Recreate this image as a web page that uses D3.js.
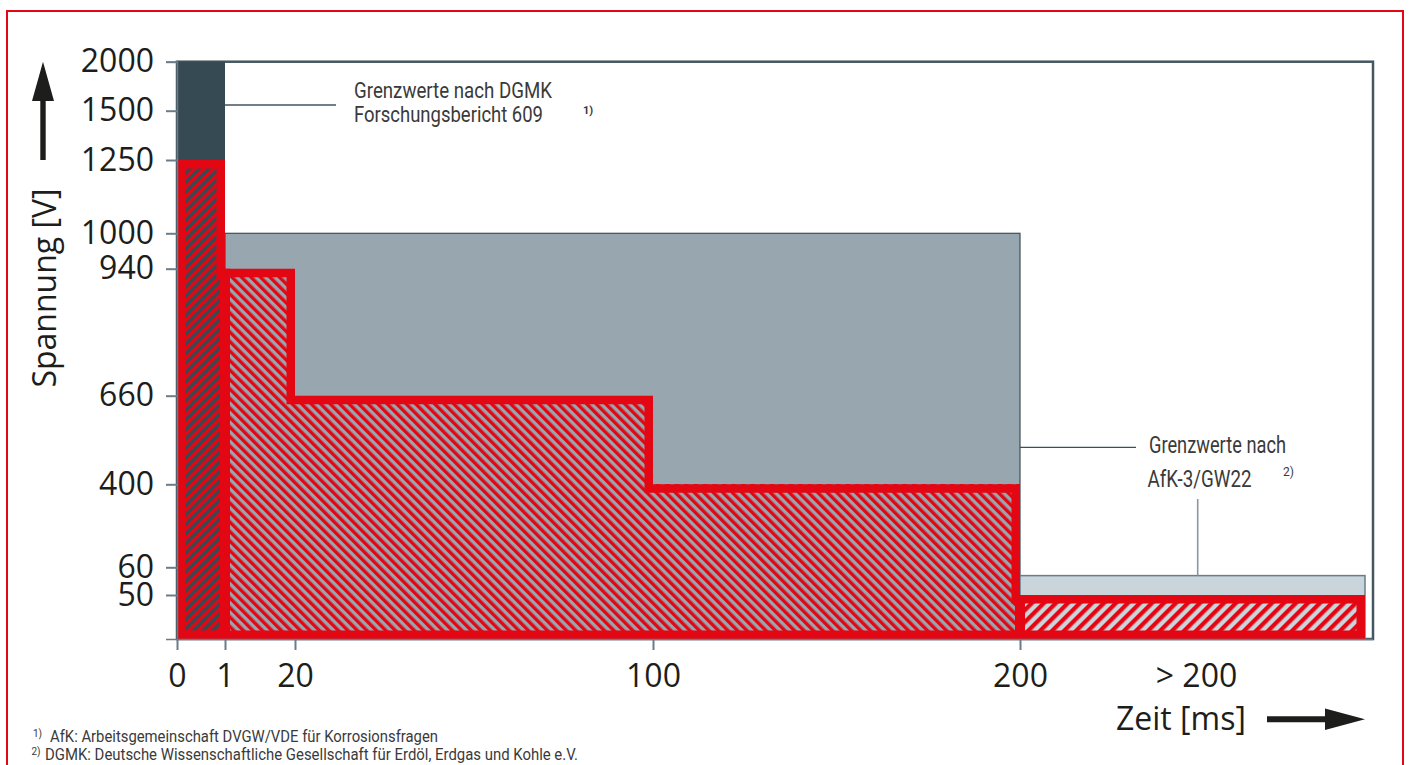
<!DOCTYPE html>
<html>
<head>
<meta charset="utf-8">
<script src="https://cdn.jsdelivr.net/npm/d3@7"></script>
<style>
  html, body { margin: 0; padding: 0; background: #fff; }
  svg { display: block; }
  .tick text { font-family: "Open Sans", sans-serif; font-size: 32px; fill: #1d1d1b; }
  .big { font-family: "Open Sans", sans-serif; font-size: 32px; fill: #1d1d1b; }
  .narrow { font-family: Roboto, "DejaVu Sans Condensed", sans-serif; fill: #3a3a3a; }
</style>
</head>
<body>
<div class="vis-steps"></div>
<script>
// time axis [ms] and voltage axis [V]
const xTicks = [0, 1, 20, 100, 200];
const xOpenLabel = '> 200';
const yTicks = [2000, 1500, 1250, 1000, 940, 660, 400, 60, 50];

// red hatched field: allowed voltage per time step
const stepStart = [0, 1, 20, 100, 200];
const stepEnd = [1, 20, 100, 200, 300];
const stepVolt = [1250, 940, 660, 400, 50];

// limit fields behind it (DGMK, AfK 1..200 ms, AfK > 200 ms)
const limitStart = [0, 1, 200];
const limitEnd = [1, 200, 300];
const limitVolt = [2000, 1000, 57];

const note1 = ['Grenzwerte nach DGMK', 'Forschungsbericht 609'];
const note2 = ['Grenzwerte nach', 'AfK-3/GW22'];
const footnotes = [
  ['1)', 'AfK: Arbeitsgemeinschaft DVGW/VDE für Korrosionsfragen'],
  ['2)', 'DGMK: Deutsche Wissenschaftliche Gesellschaft für Erdöl, Erdgas und Kohle e.V.']
];

const RED = '#e30613';
const fieldFill = ['#364a54', '#97a6af', '#c9d4db'];
const hatchPeriod = [9.5, 9.5, 12];
const hatchAngle = [45, -45, 45];

const draw = () => {
  const W = 1410;
  const H = 765;
  const svg = d3.select('.vis-steps')
    .append('svg')
    .attr('width', W)
    .attr('height', H);

  // piecewise scales, the axes are not to scale in the original
  const x = d3.scaleLinear()
    .domain([...xTicks, d3.max(stepEnd)])
    .range([177, 225, 295, 653, 1020, 1365]);
  const y = d3.scaleLinear()
    .domain([0, ...yTicks.slice().reverse()])
    .range([639, 595, 567.3, 484.3, 395.7, 268.7, 233.3, 160, 110.7, 61.7]);
  const frameRight = x.range()[x.range().length - 1] + 8;

  // outer red border
  svg.append('rect')
    .attr('x', 7).attr('y', 11)
    .attr('width', W - 14).attr('height', H)
    .attr('fill', 'none')
    .attr('stroke', RED)
    .attr('stroke-width', 2);

  // hatch patterns, one per limit field
  const defs = svg.append('defs');
  fieldFill.forEach((bg, i) => {
    const w = hatchPeriod[i] / Math.SQRT2;
    const p = defs.append('pattern')
      .attr('id', `hatch-${i}`)
      .attr('patternUnits', 'userSpaceOnUse')
      .attr('width', w)
      .attr('height', w)
      .attr('patternTransform', `rotate(${hatchAngle[i]})`);
    p.append('rect').attr('width', w).attr('height', w).attr('fill', bg);
    p.append('rect').attr('width', w / 2).attr('height', w).attr('fill', RED);
  });

  // frame
  svg.append('rect')
    .attr('x', x(0))
    .attr('y', y(2000))
    .attr('width', frameRight - x(0))
    .attr('height', y(0) - y(2000))
    .attr('fill', 'none')
    .attr('stroke', '#44565f')
    .attr('stroke-width', 2.5);

  // limit fields
  svg.selectAll('.limit')
    .data(limitVolt)
    .enter()
    .append('rect')
    .attr('class', 'limit')
    .attr('x', (d, i) => x(limitStart[i]))
    .attr('y', (d) => y(d))
    .attr('width', (d, i) => x(limitEnd[i]) - x(limitStart[i]))
    .attr('height', (d) => y(0) - y(d))
    .attr('fill', (d, i) => fieldFill[i])
    .attr('stroke', (d, i) => (i === 0 ? 'none' : i === 1 ? '#3d4f58' : '#6b7c88'))
    .attr('stroke-width', (d, i) => (i === 1 ? 1.2 : 1.5));

  // which limit field each step lies in
  const fieldOf = (i) => limitStart.findIndex((s, j) => stepStart[i] >= s && stepStart[i] < limitEnd[j]);

  // hatched steps
  svg.selectAll('.step')
    .data(stepVolt)
    .enter()
    .append('rect')
    .attr('class', 'step')
    .attr('x', (d, i) => x(stepStart[i]))
    .attr('y', (d) => y(d))
    .attr('width', (d, i) => x(stepEnd[i]) - x(stepStart[i]))
    .attr('height', (d) => y(0) - y(d))
    .attr('shape-rendering', 'crispEdges')
    .attr('fill', (d, i) => `url(#hatch-${fieldOf(i)})`);

  // red outline of the whole step shape, drawn inside its edges
  const sw = 8.5;
  const k = sw / 2;
  const pts = [[x(0) + k, y(0) - k], [x(0) + k, y(stepVolt[0]) + k]];
  stepVolt.forEach((v, i) => {
    pts.push([x(stepEnd[i]) - k, y(v) + k]);
    const next = i < stepVolt.length - 1 ? y(stepVolt[i + 1]) + k : y(0) - k;
    pts.push([x(stepEnd[i]) - k, next]);
  });
  svg.append('path')
    .attr('d', d3.line()(pts) + 'Z')
    .attr('fill', 'none')
    .attr('stroke', RED)
    .attr('stroke-width', sw)
    .attr('stroke-linejoin', 'miter');

  // red dividers where the limit field changes
  const dividers = stepStart.filter((s, i) => i > 0 && fieldOf(i) !== fieldOf(i - 1));
  svg.selectAll('.divider')
    .data(dividers)
    .enter()
    .append('line')
    .attr('class', 'divider')
    .attr('x1', (d) => x(d)).attr('x2', (d) => x(d))
    .attr('y1', (d) => y(stepVolt[stepStart.indexOf(d)]))
    .attr('y2', y(0) - k)
    .attr('stroke', RED)
    .attr('stroke-width', 10);

  // axes
  const yAxis = svg.append('g')
    .attr('transform', `translate(${x(0)},0)`)
    .call(d3.axisLeft(y).tickValues(yTicks).tickFormat(d3.format('d')).tickSize(11).tickPadding(12));
  const xAxis = svg.append('g')
    .attr('transform', `translate(0,${y(0)})`)
    .call(d3.axisBottom(x).tickValues(xTicks).tickFormat(d3.format('d')).tickSize(11).tickPadding(14));
  [yAxis, xAxis].forEach((g) => {
    g.select('.domain').attr('stroke', '#6b7c88').attr('stroke-width', 1.5);
    g.selectAll('.tick line').attr('stroke', '#6b7c88').attr('stroke-width', 2);
    g.attr('font-family', null).attr('font-size', null);
  });
  xAxis.select('.domain').attr('d', `M${x(0)},0.5H${frameRight}`);

  svg.append('text')
    .attr('class', 'big')
    .attr('x', (x(200) + frameRight) / 2)
    .attr('y', 687)
    .attr('text-anchor', 'middle')
    .text(xOpenLabel);

  // axis titles with arrows
  svg.append('text')
    .attr('class', 'big')
    .attr('transform', 'translate(56,288) rotate(-90)')
    .attr('text-anchor', 'middle')
    .text('Spannung [V]');
  svg.append('path')
    .attr('d', `M40.3,160V101H32L43,${y(2000)}L54,101H45.7V160Z`)
    .attr('fill', '#1d1d1b');

  svg.append('text')
    .attr('class', 'big')
    .attr('x', 1116)
    .attr('y', 730)
    .text('Zeit [ms]');
  svg.append('path')
    .attr('d', `M1267,716.3H1325V708.5L${x(300)},719.3L1325,730V722.3H1267Z`)
    .attr('fill', '#1d1d1b');

  // condensed text: squeeze to the width it has in the original
  const narrow = (sel, len) => sel.attr('textLength', len).attr('lengthAdjust', 'spacingAndGlyphs');

  // annotations
  svg.append('line')
    .attr('x1', x(1)).attr('x2', 336)
    .attr('y1', 105).attr('y2', 105)
    .attr('stroke', '#6f808c').attr('stroke-width', 1.8);
  const note1Len = [198, 189];
  note1.forEach((d, i) => {
    svg.append('text')
      .attr('class', 'narrow')
      .attr('x', 354)
      .attr('y', 98 + i * 23.5)
      .attr('font-size', 22)
      .text(d)
      .call(narrow, note1Len[i]);
  });
  svg.append('text')
    .attr('class', 'narrow')
    .attr('x', 583).attr('y', 114)
    .attr('font-size', 11).attr('font-weight', 'bold')
    .text('1)');

  svg.append('line')
    .attr('x1', x(200)).attr('x2', 1136)
    .attr('y1', 447.3).attr('y2', 447.3)
    .attr('stroke', '#3d4f58').attr('stroke-width', 1.3);
  svg.append('line')
    .attr('x1', 1197.7).attr('x2', 1197.7)
    .attr('y1', 499).attr('y2', y(limitVolt[2]))
    .attr('stroke', '#8a979f').attr('stroke-width', 1.6);
  const note2Len = [137, 104];
  note2.forEach((d, i) => {
    svg.append('text')
      .attr('class', 'narrow')
      .attr('x', 1149 - i * 1.5)
      .attr('y', 453 + i * 34)
      .attr('font-size', 23)
      .text(d)
      .call(narrow, note2Len[i]);
  });
  svg.append('text')
    .attr('class', 'narrow')
    .attr('x', 1283).attr('y', 476)
    .attr('font-size', 12)
    .text('2)');

  // footnotes
  const footLen = [388, 533];
  footnotes.forEach(([mark, txt], i) => {
    svg.append('text')
      .attr('class', 'narrow')
      .attr('x', 33 - i * 1.5).attr('y', 737 + i * 18)
      .attr('font-size', 10)
      .text(mark);
    svg.append('text')
      .attr('class', 'narrow')
      .attr('x', 50 - i * 5).attr('y', 742 + i * 18)
      .attr('font-size', 16)
      .text(txt)
      .call(narrow, footLen[i]);
  });
};

draw();
</script>
</body>
</html>
